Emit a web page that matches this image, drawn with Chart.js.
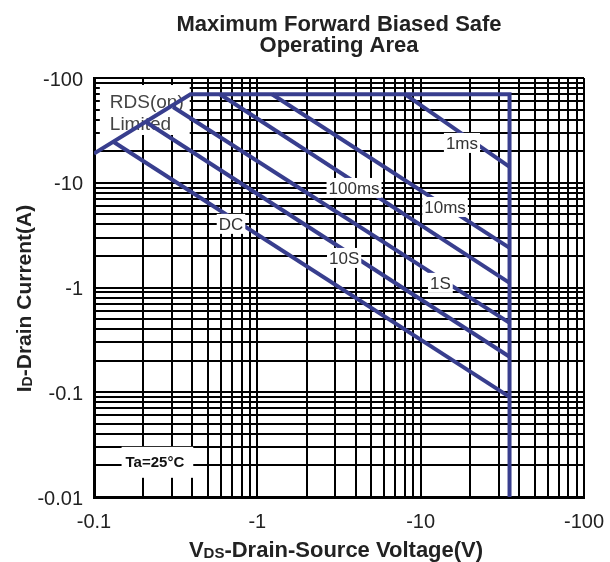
<!DOCTYPE html>
<html>
<head>
<meta charset="utf-8">
<script src="https://cdn.jsdelivr.net/npm/chart.js@4/dist/chart.umd.min.js"></script>
<style>
  html, body { margin: 0; padding: 0; background: #fff; }
  canvas { display: block; }
</style>
</head>
<body>
<canvas id="soa" width="610" height="562"></canvas>
<script>
// Safe operating area of a P-channel MOSFET on log-log axes.
// Magnitudes are plotted; the tick labels carry the minus sign.

const titleLines = ['Maximum Forward Biased Safe', 'Operating Area'];

// Axis decades and their labels
const xDecades = [0.1, 1, 10, 100];
const xTickLabels = ['-0.1', '-1', '-10', '-100'];
const yDecades = [0.01, 0.1, 1, 10, 100];
const yTickLabels = ['-0.01', '-0.1', '-1', '-10', '-100'];
const minorSteps = [1, 2, 3, 4, 5, 6, 7, 8, 9];

// Axis titles: [text, isSubscript]
const xTitleParts = [['V', false], ['DS', true], ['-Drain-Source Voltage(V)', false]];
const yTitleParts = [['I', false], ['D', true], ['-Drain Current(A)', false]];

// Outer limit: RDS(on) slope, package current limit, BVDSS (V, A)
const boundaryV = [0.1, 0.39, 35, 35];
const boundaryI = [19, 70, 70, 0.01];

// Single-pulse curves (V, A)
const pulseNames = ['1ms', '10ms', '100ms', '1S', '10S', 'DC'];
const pulseV = [
  [8.0, 35],
  [1.23, 35],
  [0.59, 35],
  [0.305, 35],
  [0.208, 35],
  [0.132, 35]
];
const pulseI = [
  [70, 14.2],
  [70, 2.39],
  [70, 1.107],
  [52.9, 0.459],
  [38, 0.218],
  [24.5, 0.0904]
];
// Where each curve name is written (V, A)
const pulseLabelV = [17.9, 14.1, 3.91, 13.2, 3.40, 0.690];
const pulseLabelI = [24.0, 5.87, 8.92, 1.107, 1.915, 4.05];

// Corner notes
const rdsLines = ['RDS(on)', 'Limited'];
const rdsNoteV = 0.125;
const rdsNoteI = [57.7, 35.6];
const ambientNote = 'Ta=25°C';
const ambientV = 0.236;
const ambientI = 0.0212;

const FONT = "'Liberation Sans', Arial, Helvetica, sans-serif";
const LINE_BLUE = '#383e8e';
const TEXT_DARK = '#222222';

function tickValues(decades) {
  const out = [];
  for (let i = 0; i < decades.length - 1; i++) {
    minorSteps.forEach(m => out.push(decades[i] * m));
  }
  out.push(decades[decades.length - 1]);
  return out;
}

function labelFor(value, decades, labels) {
  for (let i = 0; i < decades.length; i++) {
    if (Math.abs(Math.log10(value / decades[i])) < 1e-6) return labels[i];
  }
  return '';
}

function toPoints(vs, is) {
  return vs.map((v, k) => ({ x: v, y: is[k] }));
}

const lineStyle = {
  showLine: true,
  borderColor: LINE_BLUE,
  backgroundColor: LINE_BLUE,
  borderWidth: 4,
  pointRadius: 0,
  pointHoverRadius: 0,
  tension: 0,
  borderJoinStyle: 'miter',
  fill: false
};

const datasets = [
  Object.assign({ label: 'Limit', data: toPoints(boundaryV, boundaryI) }, lineStyle)
];
pulseNames.forEach((name, k) => {
  datasets.push(Object.assign({ label: name, data: toPoints(pulseV[k], pulseI[k]) }, lineStyle));
});

// Text with a subscript run, laid out left to right from x
function drawRuns(ctx, parts, size, x, y) {
  const subSize = Math.round(size * 0.66);
  parts.forEach(([t, sub]) => {
    ctx.font = 'bold ' + (sub ? subSize : size) + 'px ' + FONT;
    ctx.fillText(t, x, y + (sub ? 1 : 0));
    x += ctx.measureText(t).width;
  });
}
function runsWidth(ctx, parts, size) {
  const subSize = Math.round(size * 0.66);
  let w = 0;
  parts.forEach(([t, sub]) => {
    ctx.font = 'bold ' + (sub ? subSize : size) + 'px ' + FONT;
    w += ctx.measureText(t).width;
  });
  return w;
}

const notesPlugin = {
  id: 'soaNotes',
  beforeDatasetsDraw(chart) {
    const { ctx, scales: { x, y } } = chart;
    ctx.save();
    // RDS(on) note on a white patch
    ctx.font = '19px ' + FONT;
    const lx = x.getPixelForValue(rdsNoteV);
    const ly0 = y.getPixelForValue(rdsNoteI[0]);
    const ly1 = y.getPixelForValue(rdsNoteI[1]);
    const w = Math.max(...rdsLines.map(t => ctx.measureText(t).width));
    ctx.fillStyle = '#fff';
    ctx.fillRect(lx - 10, ly0 - 18, w + 16, ly1 - ly0 + 28);
    ctx.fillStyle = '#444';
    ctx.textAlign = 'left';
    ctx.textBaseline = 'middle';
    ctx.fillText(rdsLines[0], lx, ly0);
    ctx.fillText(rdsLines[1], lx, ly1);

    // Ambient temperature note
    ctx.font = 'bold 15px ' + FONT;
    const ax = x.getPixelForValue(ambientV);
    const ay = y.getPixelForValue(ambientI);
    const aw = ctx.measureText(ambientNote).width;
    ctx.fillStyle = '#fff';
    ctx.fillRect(ax - aw / 2 - 4, ay - 16, aw + 13, 31);
    ctx.fillStyle = '#111';
    ctx.textAlign = 'center';
    ctx.fillText(ambientNote, ax, ay);
    ctx.restore();
  },
  afterDatasetsDraw(chart) {
    const { ctx, scales: { x, y } } = chart;
    ctx.save();
    ctx.font = '17px ' + FONT;
    ctx.textAlign = 'center';
    ctx.textBaseline = 'middle';
    pulseNames.forEach((name, k) => {
      const px = x.getPixelForValue(pulseLabelV[k]);
      const py = y.getPixelForValue(pulseLabelI[k]);
      const w = ctx.measureText(name).width;
      ctx.fillStyle = '#fff';
      ctx.fillRect(px - w / 2 - 2, py - 10, w + 4, 20);
      ctx.fillStyle = '#333';
      ctx.fillText(name, px, py + 1);
    });
    ctx.restore();
  },
  afterDraw(chart) {
    const { ctx, chartArea } = chart;
    ctx.save();
    ctx.fillStyle = TEXT_DARK;
    ctx.textAlign = 'left';
    ctx.textBaseline = 'alphabetic';
    // x axis title
    const xs = 22;
    const xw = runsWidth(ctx, xTitleParts, xs);
    drawRuns(ctx, xTitleParts, xs, 336 - xw / 2, 557);
    // y axis title, reading upward
    const ys = 21;
    const yw = runsWidth(ctx, yTitleParts, ys);
    const cy = (chartArea.top + chartArea.bottom) / 2 + 11;
    ctx.translate(31, cy);
    ctx.rotate(-Math.PI / 2);
    drawRuns(ctx, yTitleParts, ys, -yw / 2, 0);
    ctx.restore();
  }
};

Chart.defaults.font.family = FONT;

new Chart(document.getElementById('soa'), {
  type: 'scatter',
  data: { datasets },
  options: {
    responsive: false,
    animation: false,
    devicePixelRatio: 1,
    layout: { padding: { top: 0, right: 26, bottom: 0, left: 0 } },
    plugins: {
      legend: { display: false },
      tooltip: { enabled: false },
      title: {
        display: true,
        text: titleLines,
        fullSize: false,
        color: TEXT_DARK,
        font: { size: 22, weight: 'bold', lineHeight: 21 / 22 },
        padding: { top: 14, bottom: 22 }
      }
    },
    scales: {
      x: {
        type: 'logarithmic',
        min: xDecades[0],
        max: xDecades[xDecades.length - 1],
        afterBuildTicks: s => { s.ticks = tickValues(xDecades).map(v => ({ value: v })); },
        afterFit: s => { s.height = 65; s.paddingLeft = 0; s.paddingRight = 0; },
        grid: { color: '#000', lineWidth: 2, drawTicks: false },
        border: { color: '#000', width: 3 },
        ticks: {
          autoSkip: false, maxRotation: 0, minRotation: 0, padding: 13,
          color: TEXT_DARK, font: { size: 20 },
          callback: v => labelFor(v, xDecades, xTickLabels)
        }
      },
      y: {
        type: 'logarithmic',
        min: yDecades[0],
        max: yDecades[yDecades.length - 1],
        afterBuildTicks: s => { s.ticks = tickValues(yDecades).map(v => ({ value: v })); },
        afterFit: s => { s.width = 94; },
        grid: { color: '#000', lineWidth: 2, drawTicks: false },
        border: { color: '#000', width: 3 },
        ticks: {
          autoSkip: false, padding: 11, labelOffset: 2,
          color: TEXT_DARK, font: { size: 20 },
          callback: v => labelFor(v, yDecades, yTickLabels)
        }
      }
    }
  },
  plugins: [notesPlugin]
});
</script>
</body>
</html>
